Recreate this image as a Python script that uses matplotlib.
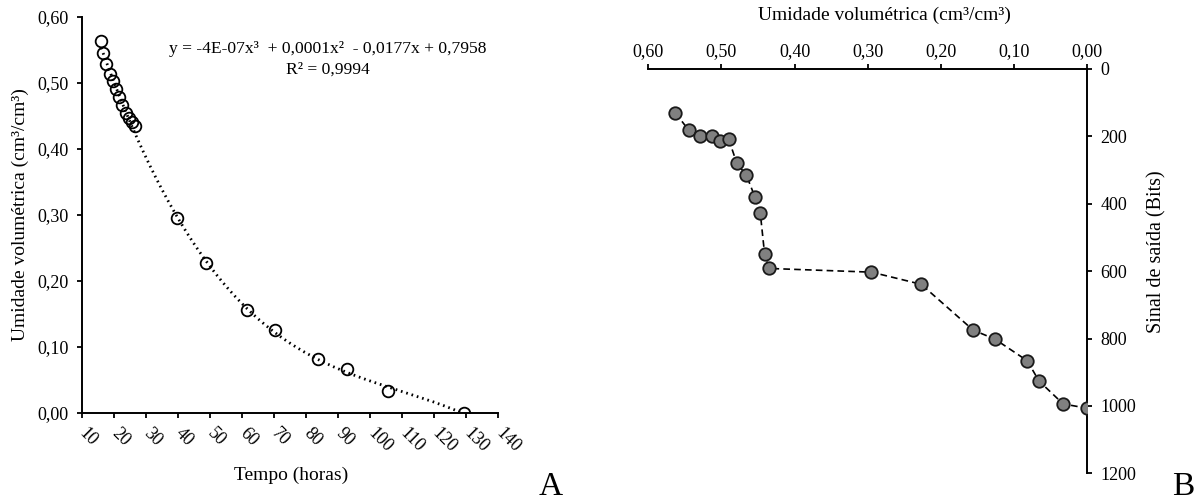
import numpy as np
import matplotlib.pyplot as plt

plt.rcParams['font.family'] = ['Liberation Serif', 'DejaVu Serif']

# dados
tempo = [16.0, 16.6, 17.5, 18.7, 19.6, 20.6, 21.5, 22.5, 23.6, 24.6,
         25.5, 26.5, 39.6, 48.7, 61.4, 70.4, 83.7, 92.6, 105.6, 129.4]
umidade = [0.563, 0.545, 0.529, 0.513, 0.502, 0.490, 0.479, 0.466, 0.454, 0.447,
           0.441, 0.435, 0.295, 0.227, 0.156, 0.126, 0.082, 0.066, 0.033, 0.000]
sinal = [130, 181, 199, 199, 215, 209, 280, 315, 381, 426,
         550, 592, 603, 639, 775, 802, 866, 926, 994, 1007]

xticks_A = list(range(10, 141, 10))
yticks_A = [0.0, 0.1, 0.2, 0.3, 0.4, 0.5, 0.6]
yticks_B = list(range(0, 1201, 200))

def virgula(v):
    return f"{v:.2f}".replace('.', ',')

fig = plt.figure(figsize=(11.99, 5.01), dpi=100)

# ---------------- painel A ----------------
axA = fig.add_axes([0.0684, 0.1756, 0.3472, 0.791])
coef = np.polyfit(tempo, umidade, 3)
xs = np.linspace(min(tempo), max(tempo), 300)
axA.plot(xs, np.polyval(coef, xs), color='black', lw=2.0, linestyle=(0, (0.6, 1.4)), zorder=2)
axA.plot(tempo, umidade, 'o', ms=8.4, mfc='none', mec='black', mew=1.3, zorder=3)

axA.set_xlim(10, 140)
axA.set_ylim(0, 0.6)
axA.set_xticks(xticks_A)
axA.set_yticks(yticks_A)
axA.set_yticklabels([virgula(v) for v in yticks_A])
axA.set_xticklabels([str(v) for v in xticks_A], rotation=-45, ha='left', va='center',
                    rotation_mode='anchor')
for s in ['top', 'right']:
    axA.spines[s].set_visible(False)
for s in ['left', 'bottom']:
    axA.spines[s].set_linewidth(1.4)
axA.tick_params(axis='both', direction='out', length=3.6, width=1.3, labelsize=13)
axA.tick_params(axis='x', pad=9)
axA.tick_params(axis='y', pad=6)

fig.text(328/1199, 1-49/501, 'y = -4E-07x³  + 0,0001x²  - 0,0177x + 0,7958',
         ha='center', va='center', fontsize=12.6)
fig.text(328/1199, 1-70/501, 'R² = 0,9994', ha='center', va='center', fontsize=12.6)

fig.text(291/1199, 1-475/501, 'Tempo (horas)', ha='center', va='center', fontsize=14)
fig.text(20/1199, 1-215/501, 'Umidade volumétrica (cm³/cm³)', ha='center', va='center',
         rotation=90, fontsize=14)
fig.text(551/1199, 0.012, 'A', ha='center', va='baseline', fontsize=24)

# ---------------- painel B ----------------
axB = fig.add_axes([0.5407, 0.0553, 0.3661, 0.807])
axB.plot(umidade, sinal, color='black', lw=1.2, linestyle=(0, (4, 2.5)), zorder=2)
axB.plot(umidade, sinal, 'o', ms=9, mfc='#808080', mec='#1a1a1a', mew=1.3, zorder=3)

axB.set_xlim(0.6, 0.0)
axB.set_ylim(1200, 0)
axB.set_xticks(yticks_A)
axB.set_xticklabels([virgula(v) for v in yticks_A])
axB.set_yticks(yticks_B)
axB.xaxis.tick_top()
axB.yaxis.tick_right()
for s in ['bottom', 'left']:
    axB.spines[s].set_visible(False)
for s in ['top', 'right']:
    axB.spines[s].set_linewidth(1.4)
axB.tick_params(axis='both', direction='out', length=3.6, width=1.3, labelsize=13)
axB.tick_params(axis='x', pad=3)
axB.tick_params(axis='y', pad=6)

fig.text(884/1199, 1-15/501, 'Umidade volumétrica (cm³/cm³)', ha='center', va='center',
         fontsize=14)
fig.text(1157/1199, 1-252/501, 'Sinal de saída (Bits)', ha='center', va='center',
         rotation=90, fontsize=14.5)
fig.text(1183/1199, 0.012, 'B', ha='center', va='baseline', fontsize=24)

fig.savefig('out.png', dpi=100)
